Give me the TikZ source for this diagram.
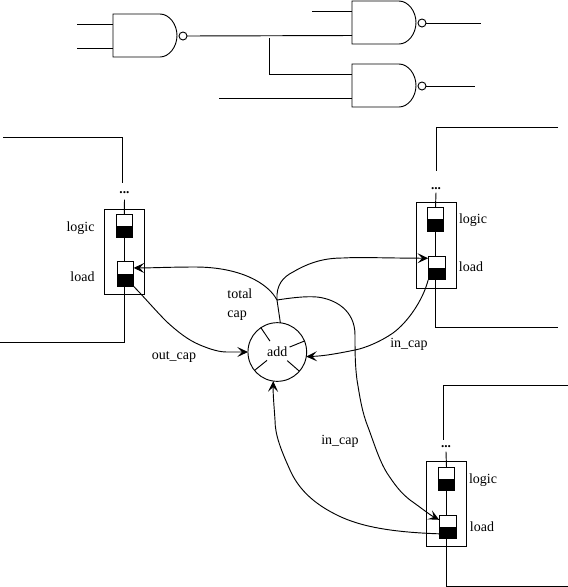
\documentclass[tikz,border=0pt]{standalone}
\usepackage{fontspec}
\setmainfont{Liberation Serif}
\usepackage{tikz}
\usetikzlibrary{arrows.meta, positioning, calc}
\tikzstyle{cellframe} = [rectangle, draw=black, minimum width=30pt, minimum height=64pt, inner sep=0pt, outer sep=0pt]
\tikzstyle{flop} = [rectangle, draw=black, minimum width=12.5pt, minimum height=17.5pt, inner sep=0pt, outer sep=0pt, path picture={\fill[black] (path picture bounding box.west) rectangle (path picture bounding box.south east);}]
\tikzstyle{dotsmark} = [inner sep=0pt, font=\bfseries\fontsize{10}{10}\selectfont]
\tikzstyle{lbl} = [inner sep=0pt, font=\fontsize{10.5}{12}\selectfont]
\tikzstyle{adder} = [circle, draw=black, minimum size=44pt, inner sep=0pt, outer sep=0pt, font=\fontsize{10.5}{12}\selectfont]
\tikzstyle{arrow} = [->,>={Stealth[length=8pt,width=7.5pt,inset=3.5pt]}]
\tikzset{
  nandgate/.pic={
    \draw (0,0) -- (47,0) .. controls (56,0) and (64,10) .. (64,21.5)
      .. controls (64,33) and (56,43) .. (47,43) -- (0,43) -- cycle;
    \node (-bubble) [circle, draw=black, minimum size=6pt, inner sep=0pt, outer sep=0pt] at (70,22) {};
    \coordinate (-a) at (0,10);
    \coordinate (-b) at (0,34.5);
  }
}

\begin{document}
\begin{tikzpicture}[x=0.75pt,y=-0.75pt,line width=0.7pt]
  \useasboundingbox (0,0) rectangle (568,587);

  \pic (gateA) at (113,14) {nandgate};
  \pic (gateB) at (352,1) {nandgate};
  \pic (gateC) at (352,64) {nandgate};
  \coordinate (inAa) at (77,24);
  \coordinate (inAb) at (77,48.5);
  \coordinate (inBa) at (312,11);
  \coordinate (inCb) at (219,98.5);
  \coordinate (outB) at (481,23);
  \coordinate (outC) at (475,86);
  \coordinate (branch) at (269.5,38);

  \draw (inAa) -- (gateA-a);
  \draw (inAb) -- (gateA-b);
  \draw (inBa) -- (gateB-a);
  \draw (inCb) -- (gateC-b);
  \draw (gateA-bubble.east) -- (gateB-b);
  \draw (branch) |- (gateC-a);
  \draw (gateB-bubble.east) -- (outB);
  \draw (gateC-bubble.east) -- (outC);

  \node (frameA) [cellframe] at (124.3,251.8) {};
  \node (logicA) [flop, below=3.75pt of frameA.north] {};
  \node (loadA) [flop, minimum height=19pt, below=17.7pt of logicA, xshift=0.75pt] {};
  \node (dotsA) [dotsmark] at (124.5,193) {...};
  \node (logicAtxt) [lbl] at (80.5,228) {logic};
  \node (loadAtxt) [lbl] at (82.5,277) {load};
  \coordinate (railA) at (3,137);
  \coordinate (stubA) at (122.5,183);
  \coordinate (exitA) at (0,342);

  \node (frameB) [cellframe] at (436.5,245.3) {};
  \node (logicB) [flop, below=3.75pt of frameB.north, xshift=-0.75pt] {};
  \node (loadB) [flop, minimum width=13pt, below=19.2pt of logicB, xshift=1pt] {};
  \node (dotsB) [dotsmark] at (436,189) {...};
  \node (logicBtxt) [lbl] at (473,220) {logic};
  \node (loadBtxt) [lbl] at (471,267) {load};
  \coordinate (railB) at (558,127);
  \coordinate (stubB) at (436,171);
  \coordinate (exitB) at (558,327);

  \node (frameC) [cellframe] at (446.5,503.8) {};
  \node (logicC) [flop, below=4.5pt of frameC.north] {};
  \node (loadC) [flop, minimum width=13pt, below=18.5pt of logicC, xshift=1pt] {};
  \node (dotsC) [dotsmark] at (446,447) {...};
  \node (logicCtxt) [lbl] at (483,480) {logic};
  \node (loadCtxt) [lbl] at (482,527) {load};
  \coordinate (railC) at (568,385.7);
  \coordinate (stubC) at (443.3,440);
  \coordinate (exitC) at (568,586.3);

  \draw (railA) -| (stubA);
  \draw (dotsA.south) ++(0,5) -- (logicA.north);
  \draw (logicA.south) -- (logicA.south |- loadA.north);
  \draw (logicA.south |- loadA.south) |- (exitA);
  \draw (railB) -| (stubB);
  \draw (dotsB.south) ++(0,2) -- (logicB.north);
  \draw (logicB.south) -- (logicB.south |- loadB.north);
  \draw (logicB.south |- loadB.south) |- (exitB);
  \draw (railC) -| (stubC);
  \draw (dotsC.south) ++(0,3) -- (logicC.north);
  \draw (logicC.south) -- (logicC.south |- loadC.north);
  \draw (logicC.south |- loadC.south) |- (exitC);

  \node (add) [adder] at (277.3,352) {add};
  \foreach \a in {22,124,219,319} {
    \draw (add.\a) -- ($(add)!0.45!(add.\a)$);
  }
  \coordinate (tap) at (277,300);
  \node (totaltxt) [lbl, align=left, anchor=west] at (227,304.5) {total\\[2pt]cap};
  \node (outtxt) [lbl] at (174,357) {out\_cap};
  \node (intxtB) [lbl] at (409,344) {in\_cap};
  \node (intxtC) [lbl] at (340,441) {in\_cap};

  \draw (add.84) -- (tap);
  \draw[arrow] (tap) .. controls (268,283) and (240,267) .. (195,267) .. controls (170,267) and (150,268) .. (loadA.35);
  \draw[arrow] (tap) .. controls (276,285) and (283,277) .. (293,272) .. controls (310,262) and (325,258) .. (343,258) .. controls (360,257) and (380,258) .. (loadB.131);
  \draw[arrow] (tap) .. controls (290,298) and (305,296) .. (317,297) .. controls (335,299) and (355,310) .. (355,335) .. controls (355,350) and (355,365) .. (357,380) .. controls (360,398) and (362,412) .. (368,427) .. controls (374,443) and (379,460) .. (387,473) .. controls (395,485) and (400,492) .. (410,500) .. controls (420,507) and (430,515) .. (loadC.141);
  \draw[arrow] (loadA.south east) .. controls (145,298) and (155,310) .. (167,322) .. controls (178,332) and (188,340) .. (200,345) .. controls (212,350) and (220,352) .. (227,352) -- (add.180);
  \draw[arrow] (loadB.south west) .. controls (423,300) and (408,322) .. (393,333) .. controls (380,342) and (365,348) .. (355,350) .. controls (340,353) and (325,356) .. (add.351);
  \draw[arrow] (loadC.219) .. controls (385,532) and (355,525) .. (333,513) .. controls (312,502) and (298,488) .. (290,470) .. controls (281,450) and (275,435) .. (275,420) .. controls (274,405) and (273,395) .. (add.262);
\end{tikzpicture}
\end{document}
